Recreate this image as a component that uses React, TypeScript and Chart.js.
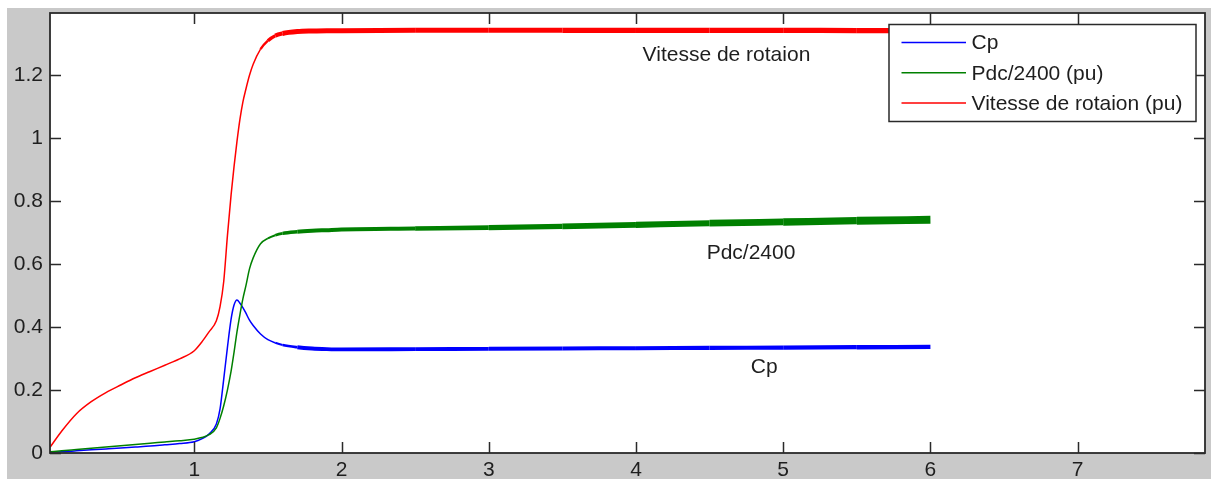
import { useEffect, useRef } from 'react';
import { Chart, registerables } from 'chart.js';

Chart.register(...registerables);

// Time axis (s)
const T = [0.02, 0.1, 0.2, 0.3, 0.4, 0.5, 0.6, 0.7, 0.8, 0.9, 1.0, 1.05, 1.1, 1.15, 1.175, 1.2, 1.225, 1.25, 1.27, 1.29, 1.31, 1.33, 1.35, 1.375, 1.4, 1.45, 1.5, 1.55, 1.6, 1.7, 1.8, 1.9, 2.0, 2.5, 3.0, 3.5, 4.0, 4.5, 5.0, 5.5, 6.0];

const CP = [0.003, 0.004, 0.007, 0.010, 0.013, 0.016, 0.019, 0.022, 0.026, 0.030, 0.036, 0.045, 0.060, 0.092, 0.140, 0.235, 0.335, 0.425, 0.470, 0.486, 0.476, 0.462, 0.445, 0.422, 0.405, 0.378, 0.360, 0.350, 0.343, 0.336, 0.332, 0.330, 0.329, 0.330, 0.331, 0.332, 0.333, 0.334, 0.335, 0.336, 0.337];

const PDC = [0.004, 0.007, 0.011, 0.015, 0.019, 0.023, 0.027, 0.031, 0.035, 0.039, 0.044, 0.049, 0.058, 0.080, 0.110, 0.150, 0.200, 0.260, 0.320, 0.385, 0.440, 0.490, 0.530, 0.585, 0.620, 0.665, 0.682, 0.692, 0.698, 0.703, 0.706, 0.708, 0.710, 0.713, 0.716, 0.720, 0.725, 0.730, 0.734, 0.738, 0.741];

const VIT = [0.018, 0.070, 0.125, 0.163, 0.192, 0.216, 0.239, 0.259, 0.279, 0.299, 0.325, 0.352, 0.385, 0.420, 0.465, 0.545, 0.690, 0.820, 0.910, 0.990, 1.060, 1.115, 1.155, 1.200, 1.235, 1.283, 1.310, 1.326, 1.333, 1.339, 1.341, 1.342, 1.342, 1.343, 1.343, 1.343, 1.343, 1.343, 1.343, 1.342, 1.342];

const SERIES_LABELS = ['Cp', 'Pdc/2400 (pu)', 'Vitesse de rotaion (pu)'];
const X_TICKS = [1, 2, 3, 4, 5, 6, 7];
const Y_TICKS = [0, 0.2, 0.4, 0.6, 0.8, 1, 1.2];
const X_RANGE = [0.02, 7.865];
const Y_RANGE = [0, 1.398];

const ANNOTATIONS = [
  { text: 'Vitesse de rotaion', x: 4.045, y: 1.265 },
  { text: 'Pdc/2400', x: 4.48, y: 0.635 },
  { text: 'Cp', x: 4.78, y: 0.272 },
];

const FONT = '21px "Liberation Sans", Arial, sans-serif';
const TEXT = '#1e1e1e';
const AXIS = '#2a2a2a';

const pts = (ys: number[]) => T.map((t, i) => ({ x: t, y: ys[i] }));

const matlabPlugin = {
  id: 'matlab',
  beforeDraw(chart: any) {
    const { ctx, width, height, chartArea: a } = chart;
    ctx.save();
    ctx.fillStyle = '#c9c9c9';
    ctx.fillRect(0, 0, width, height);
    ctx.fillStyle = '#ffffff';
    ctx.fillRect(a.left, a.top, a.right - a.left, a.bottom - a.top);
    ctx.restore();
  },
  afterDatasetsDraw(chart: any) {
    const { ctx, chartArea: a, scales } = chart;
    const xs = scales.x;
    const ys = scales.y;
    const tl = 11;
    ctx.save();
    ctx.strokeStyle = AXIS;
    ctx.lineWidth = 1.5;
    ctx.beginPath();
    X_TICKS.forEach((v) => {
      const px = Math.round(xs.getPixelForValue(v)) + 0.5;
      ctx.moveTo(px, a.bottom);
      ctx.lineTo(px, a.bottom - tl);
      ctx.moveTo(px, a.top);
      ctx.lineTo(px, a.top + tl);
    });
    Y_TICKS.forEach((v) => {
      const py = Math.round(ys.getPixelForValue(v)) + 0.5;
      ctx.moveTo(a.left, py);
      ctx.lineTo(a.left + tl, py);
      ctx.moveTo(a.right, py);
      ctx.lineTo(a.right - tl, py);
    });
    ctx.stroke();
    ctx.lineWidth = 1.8;
    ctx.strokeRect(a.left, a.top, a.right - a.left, a.bottom - a.top);

    // annotations
    ctx.font = FONT;
    ctx.fillStyle = TEXT;
    ctx.textAlign = 'left';
    ctx.textBaseline = 'middle';
    ANNOTATIONS.forEach((an) => {
      ctx.fillText(an.text, xs.getPixelForValue(an.x), ys.getPixelForValue(an.y));
    });

    // legend box
    const bw = 307;
    const bh = 97;
    const bx = a.right - 9 - bw;
    const by = a.top + 11.5;
    ctx.fillStyle = '#ffffff';
    ctx.fillRect(bx, by, bw, bh);
    ctx.strokeStyle = AXIS;
    ctx.lineWidth = 1.5;
    ctx.strokeRect(bx, by, bw, bh);
    chart.data.datasets.forEach((ds: any, i: number) => {
      const cy = by + 18 + i * 30.3;
      ctx.strokeStyle = ds.borderColor;
      ctx.lineWidth = 1.5;
      ctx.beginPath();
      ctx.moveTo(bx + 12.5, cy);
      ctx.lineTo(bx + 77, cy);
      ctx.stroke();
      ctx.fillStyle = TEXT;
      ctx.fillText(ds.label, bx + 82.5, cy + 1);
    });
    ctx.restore();
  },
};

export default function App() {
  const ref = useRef<HTMLCanvasElement>(null);
  useEffect(() => {
    // line thickness imitating the noisy steady-state band
    const band = (start: number, rate: number, wMax: number, grow: number) => (c: any) => {
      const x = c.p0.parsed.x;
      if (x < start) return 1.5;
      return Math.min(wMax, 1.5 + (x - start) * rate) + Math.max(0, x - 2) * grow;
    };
    const chart = new Chart(ref.current as HTMLCanvasElement, {
      type: 'line',
      data: {
        datasets: [
          {
            label: SERIES_LABELS[0],
            data: pts(CP),
            borderColor: '#0000ff',
            borderWidth: 1.5,
            order: 3,
            segment: { borderWidth: band(1.5, 12, 3.8, 0.15) },
          },
          {
            label: SERIES_LABELS[1],
            data: pts(PDC),
            borderColor: '#008000',
            borderWidth: 1.5,
            order: 2,
            segment: { borderWidth: band(1.45, 12, 4, 1.1) },
          },
          {
            label: SERIES_LABELS[2],
            data: pts(VIT),
            borderColor: '#ff0000',
            borderWidth: 1.5,
            order: 1,
            segment: { borderWidth: band(1.4, 18, 5, 0.1) },
          },
        ] as any,
      },
      options: {
        animation: false,
        responsive: false,
        parsing: false as any,
        elements: {
          point: { radius: 0, hoverRadius: 0 },
          line: { cubicInterpolationMode: 'monotone', borderCapStyle: 'butt', borderJoinStyle: 'round' },
        },
        layout: { padding: { top: 5, right: 6, left: 0, bottom: 0 } },
        plugins: { legend: { display: false }, tooltip: { enabled: false } },
        scales: {
          x: {
            type: 'linear',
            min: X_RANGE[0],
            max: X_RANGE[1],
            grid: { display: false, drawTicks: false },
            border: { display: false },
            afterBuildTicks: (s: any) => {
              s.ticks = X_TICKS.map((v) => ({ value: v }));
            },
            afterFit: (s: any) => {
              s.height = 26;
              s.paddingLeft = 0;
              s.paddingRight = 0;
            },
            ticks: {
              font: { family: '"Liberation Sans", Arial, sans-serif', size: 21 },
              color: TEXT,
              padding: 5,
              autoSkip: false,
              maxRotation: 0,
              callback: (v: any) => String(v),
            },
          },
          y: {
            type: 'linear',
            min: Y_RANGE[0],
            max: Y_RANGE[1],
            grid: { display: false, drawTicks: false },
            border: { display: false },
            afterBuildTicks: (s: any) => {
              s.ticks = Y_TICKS.map((v) => ({ value: v }));
            },
            afterFit: (s: any) => {
              s.width = 43;
              s.paddingTop = 0;
              s.paddingBottom = 0;
            },
            ticks: {
              font: { family: '"Liberation Sans", Arial, sans-serif', size: 21 },
              color: TEXT,
              padding: 7,
              autoSkip: false,
              callback: (v: any) => String(v),
            },
          },
        },
      } as any,
      plugins: [matlabPlugin],
    });
    return () => chart.destroy();
  }, []);
  return (
    <div style={{ position: 'fixed', left: 7, top: 8, width: 1204, height: 471 }}>
      <canvas ref={ref} width={1204} height={471} style={{ display: 'block' }} />
    </div>
  );
}
